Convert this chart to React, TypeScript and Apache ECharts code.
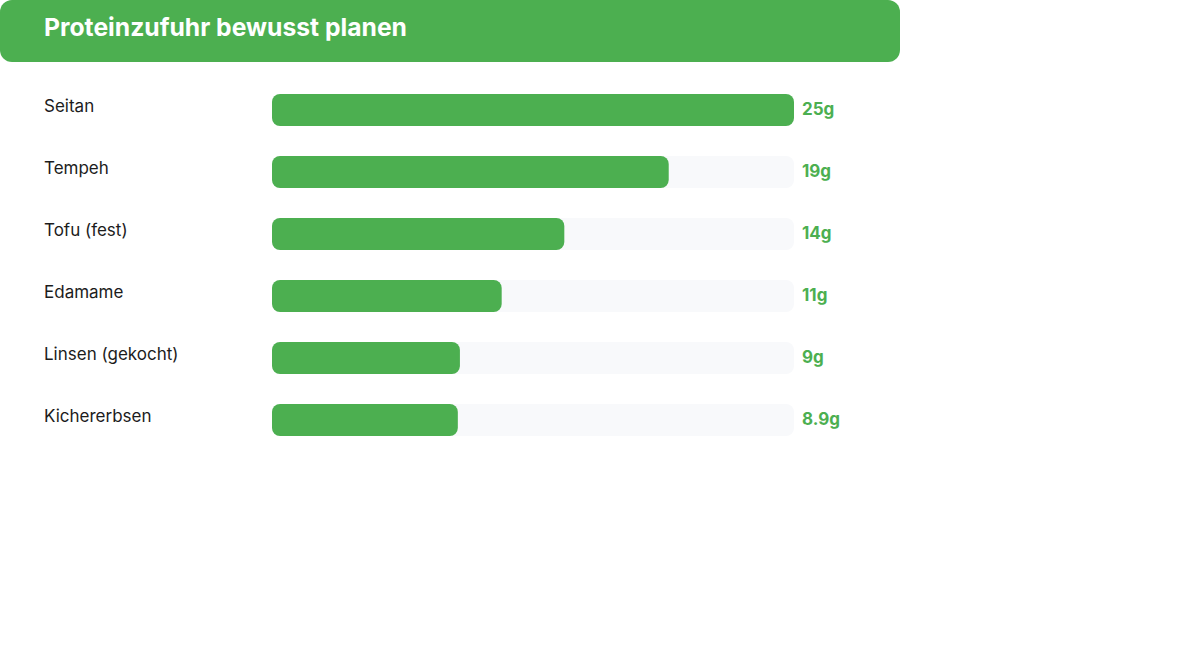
import React, { useEffect, useRef } from "react";
import * as echarts from "echarts";

// Protein content per 100 g
const foods = ["Seitan", "Tempeh", "Tofu (fest)", "Edamame", "Linsen (gekocht)", "Kichererbsen"];
const proteinGrams = [25, 19, 14, 11, 9, 8.9];
const scaleMax = 25;

const GREEN = "#4caf50";
const FONT = "Inter, 'Noto Sans', sans-serif";

export default function App() {
  const ref = useRef<HTMLDivElement>(null);

  useEffect(() => {
    if (!ref.current) return;
    const chart = echarts.init(ref.current, null, { renderer: "svg" });
    chart.setOption({
      animation: false,
      backgroundColor: "#ffffff",
      textStyle: { fontFamily: FONT },
      graphic: [
        {
          type: "rect",
          shape: { x: 0, y: 0, width: 900, height: 62, r: 12 },
          style: { fill: GREEN },
          z: 0,
        },
        {
          type: "text",
          x: 44,
          y: 27,
          style: {
            text: "Proteinzufuhr bewusst planen",
            fill: "#ffffff",
            font: `bold 24.7px ${FONT}`,
            textVerticalAlign: "middle",
          },
          z: 1,
        },
      ],
      grid: { left: 272, width: 522, top: 79, height: 372, containLabel: false },
      xAxis: {
        type: "value",
        min: 0,
        max: scaleMax,
        show: false,
      },
      yAxis: {
        type: "category",
        data: foods,
        inverse: true,
        axisLine: { show: false },
        axisTick: { show: false },
        splitLine: { show: false },
        axisLabel: {
          align: "left",
          margin: 228,
          formatter: (v: string) => `{n|${v}}`,
          rich: {
            n: {
              color: "#1c1c1c",
              fontSize: 17,
              fontFamily: FONT,
              padding: [0, 0, 9, 0],
            },
          },
        },
      },
      series: [
        {
          type: "bar",
          data: proteinGrams,
          barWidth: 32,
          itemStyle: { color: GREEN, borderRadius: 8 },
          showBackground: true,
          backgroundStyle: { color: "#f8f9fb", borderRadius: 8 },
          z: 2,
        },
        {
          // transparent full-length bars that carry the value labels at the track end
          type: "bar",
          data: proteinGrams.map(() => scaleMax),
          barWidth: 32,
          barGap: "-100%",
          itemStyle: { color: "rgba(0,0,0,0)" },
          silent: true,
          z: 3,
          label: {
            show: true,
            position: "right",
            distance: 8,
            offset: [0, -1.5],
            color: GREEN,
            fontSize: 17,
            fontWeight: "bold",
            fontFamily: FONT,
            formatter: (p: any) => `${proteinGrams[p.dataIndex]}g`,
          },
        },
      ],
    });
    return () => chart.dispose();
  }, []);

  return (
    <div
      ref={ref}
      style={{ position: "absolute", left: 0, top: 0, width: 1200, height: 652 }}
    />
  );
}
